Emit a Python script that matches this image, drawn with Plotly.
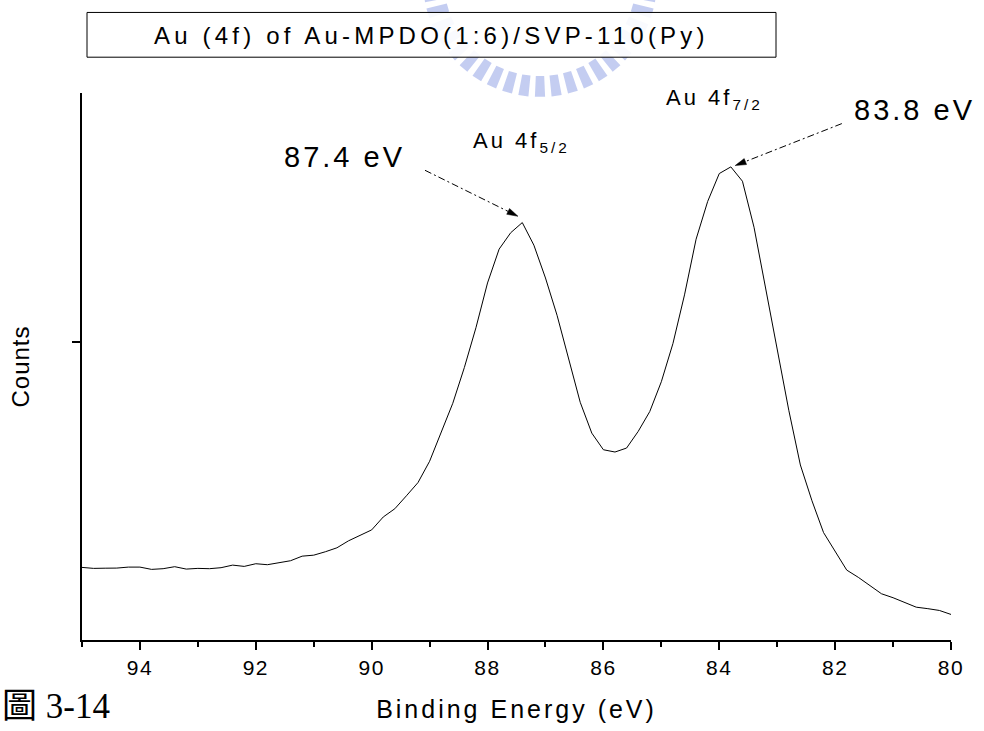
import math
import plotly.graph_objects as go

# XPS Au 4f region, sampled every 0.2 eV from 95 to 80 eV
binding_energy = [
    95.0, 94.8, 94.6, 94.4, 94.2, 94.0, 93.8, 93.6, 93.4, 93.2,
    93.0, 92.8, 92.6, 92.4, 92.2, 92.0, 91.8, 91.6, 91.4, 91.2,
    91.0, 90.8, 90.6, 90.4, 90.2, 90.0, 89.8, 89.6, 89.4, 89.2,
    89.0, 88.8, 88.6, 88.4, 88.2, 88.0, 87.8, 87.6, 87.4, 87.2,
    87.0, 86.8, 86.6, 86.4, 86.2, 86.0, 85.8, 85.6, 85.4, 85.2,
    85.0, 84.8, 84.6, 84.4, 84.2, 84.0, 83.8, 83.6, 83.4, 83.2,
    83.0, 82.8, 82.6, 82.4, 82.2, 82.0, 81.8, 81.6, 81.4, 81.2,
    81.0, 80.8, 80.6, 80.4, 80.2, 80.0,
]
counts = [
    3460, 3440, 3444, 3446, 3466, 3466, 3420, 3434, 3474, 3426,
    3440, 3434, 3454, 3506, 3480, 3534, 3514, 3560, 3594, 3686,
    3706, 3774, 3854, 3994, 4106, 4214, 4474, 4640, 4900, 5166,
    5594, 6160, 6760, 7480, 8280, 9180, 9860, 10190, 10394, 9940,
    9280, 8530, 7660, 6780, 6160, 5826, 5780, 5860, 6194, 6594,
    7194, 7960, 8940, 10060, 10820, 11380, 11514, 11226, 10300, 9060,
    7860, 6620, 5520, 4800, 4160, 3780, 3406, 3260, 3100, 2930,
    2850, 2760, 2660, 2630, 2594, 2514,
]

x_ticks = [94, 92, 90, 88, 86, 84, 82, 80]
x_ticktext = [str(v) for v in x_ticks]
y_ticks = [8000]

title_text = "Au (4f) of Au-MPDO(1:6)/SVP-110(Py)"
peak_labels = ["87.4 eV", "83.8 eV"]
peak_energies = [87.4, 83.8]
peak_names = ["Au 4f<sub>5/2</sub>", "Au 4f<sub>7/2</sub>"]
figure_caption = "圖 3-14"

W, H = 984, 731
ML, MR, MT, MB = 82, 33, 93, 88
PW, PH = W - ML - MR, H - MT - MB


def paper(px, py):
    """Canvas pixel -> paper fraction."""
    return (px - ML) / PW, (H - MB - py) / PH


def spaced(text, sp):
    return f'<span style="letter-spacing:{sp}px">{text}</span>'


FONT = "Liberation Sans, Arial, sans-serif"
BLACK = "#000000"

fig = go.Figure()
fig.add_trace(go.Scatter(
    x=binding_energy, y=counts, mode="lines",
    line=dict(color=BLACK, width=1), showlegend=False, hoverinfo="skip",
))

shapes = []

# faint toothed seal in the page background
seal_cx, seal_cy, r_in, r_out = 540, -20, 96, 117
seg = []
n_teeth = 44
for k in range(n_teeth):
    a = 2 * math.pi * k / n_teeth
    da = math.radians(2.5)
    pts = [
        (seal_cx + r_in * math.cos(a - da), seal_cy + r_in * math.sin(a - da)),
        (seal_cx + r_out * math.cos(a - da), seal_cy + r_out * math.sin(a - da)),
        (seal_cx + r_out * math.cos(a + da), seal_cy + r_out * math.sin(a + da)),
        (seal_cx + r_in * math.cos(a + da), seal_cy + r_in * math.sin(a + da)),
    ]
    pp = [paper(*p) for p in pts]
    seg.append("M" + " L".join(f"{u:.5f},{v:.5f}" for u, v in pp) + " Z")
shapes.append(dict(type="path", xref="paper", yref="paper", path=" ".join(seg),
                   fillcolor="rgba(125,145,225,0.45)", line=dict(width=0), layer="above"))

# title frame
bx0, by0 = paper(87, 12)
bx1, by1 = paper(776, 57)
shapes.append(dict(type="rect", xref="paper", yref="paper", x0=bx0, y0=by1, x1=bx1, y1=by0,
                   fillcolor="rgba(255,255,255,0.9)", line=dict(color=BLACK, width=1),
                   layer="above"))

# dash-dot leader arrows, offsets in pixels from each peak (x right, y up)
arrow_geom = [
    ((-97.3, 52.3), (-4.3, 6.3)),
    ((111.0, 43.3), (4.3, 1.3)),
]
for e, ((tx, ty), (hx, hy)) in zip(peak_energies, arrow_geom):
    i = binding_energy.index(e)
    yv = counts[i]
    dx, dy = hx - tx, hy - ty
    L = math.hypot(dx, dy)
    ux, uy = dx / L, dy / L
    hl, hw = 11, 3.2
    bxp, byp = hx - hl * ux, hy - hl * uy
    px_, py_ = -uy, ux
    shapes.append(dict(type="line", xref="x", yref="y", xsizemode="pixel", ysizemode="pixel",
                       xanchor=e, yanchor=yv, x0=tx, y0=ty, x1=bxp, y1=byp,
                       line=dict(color=BLACK, width=1, dash="7px,3px,2px,3px")))
    shapes.append(dict(type="path", xref="x", yref="y", xsizemode="pixel", ysizemode="pixel",
                       xanchor=e, yanchor=yv,
                       path=(f"M{hx},{hy} L{bxp + hw * px_},{byp + hw * py_} "
                             f"L{bxp - hw * px_},{byp - hw * py_} Z"),
                       fillcolor=BLACK, line=dict(color=BLACK, width=0.5)))

annotations = []


def label(px, py, text, size, sp, family=FONT, xanchor="center"):
    u, v = paper(px, py)
    annotations.append(dict(x=u, y=v, xref="paper", yref="paper", text=spaced(text, sp),
                            showarrow=False, xanchor=xanchor, yanchor="middle",
                            font=dict(family=family, size=size, color=BLACK)))


label(431, 35, title_text, 24, 4.2)
label(344, 157, peak_labels[0], 29, 3.0)
label(914, 110, peak_labels[1], 29, 3.0)
label(521, 142, peak_names[0], 22, 3.0)
label(714, 99, peak_names[1], 22, 3.0)
label(0, 710, figure_caption, 35, 0,
      family="Liberation Serif, Noto Sans CJK TC, serif", xanchor="left")

fig.update_layout(
    width=W, height=H,
    margin=dict(l=ML, r=MR, t=MT, b=MB, pad=0),
    paper_bgcolor="white", plot_bgcolor="white",
    font=dict(family=FONT, color=BLACK),
    shapes=shapes, annotations=annotations,
    xaxis=dict(
        range=[95, 80], showgrid=False, zeroline=False,
        showline=True, linecolor=BLACK, linewidth=2,
        tickmode="array", tickvals=x_ticks, ticktext=[spaced(t, 1.5) for t in x_ticktext],
        ticks="outside", ticklen=8, tickwidth=1.5, tickcolor=BLACK,
        tickfont=dict(size=21, family=FONT, color=BLACK),
        minor=dict(tickmode="linear", tick0=0, dtick=1, ticks="outside",
                   ticklen=5, tickwidth=1.5, tickcolor=BLACK),
        title=dict(text=spaced("Binding Energy (eV)", 3.0),
                   font=dict(size=25, family=FONT, color=BLACK), standoff=22),
    ),
    yaxis=dict(
        range=[2000, 13000], showgrid=False, zeroline=False,
        showline=True, linecolor=BLACK, linewidth=2,
        tickmode="array", tickvals=y_ticks, showticklabels=False,
        ticks="outside", ticklen=8, tickwidth=1.5, tickcolor=BLACK,
        title=dict(text=spaced("Counts", 1.0),
                   font=dict(size=24, family=FONT, color=BLACK), standoff=36),
    ),
)

fig.write_html("out.html")
